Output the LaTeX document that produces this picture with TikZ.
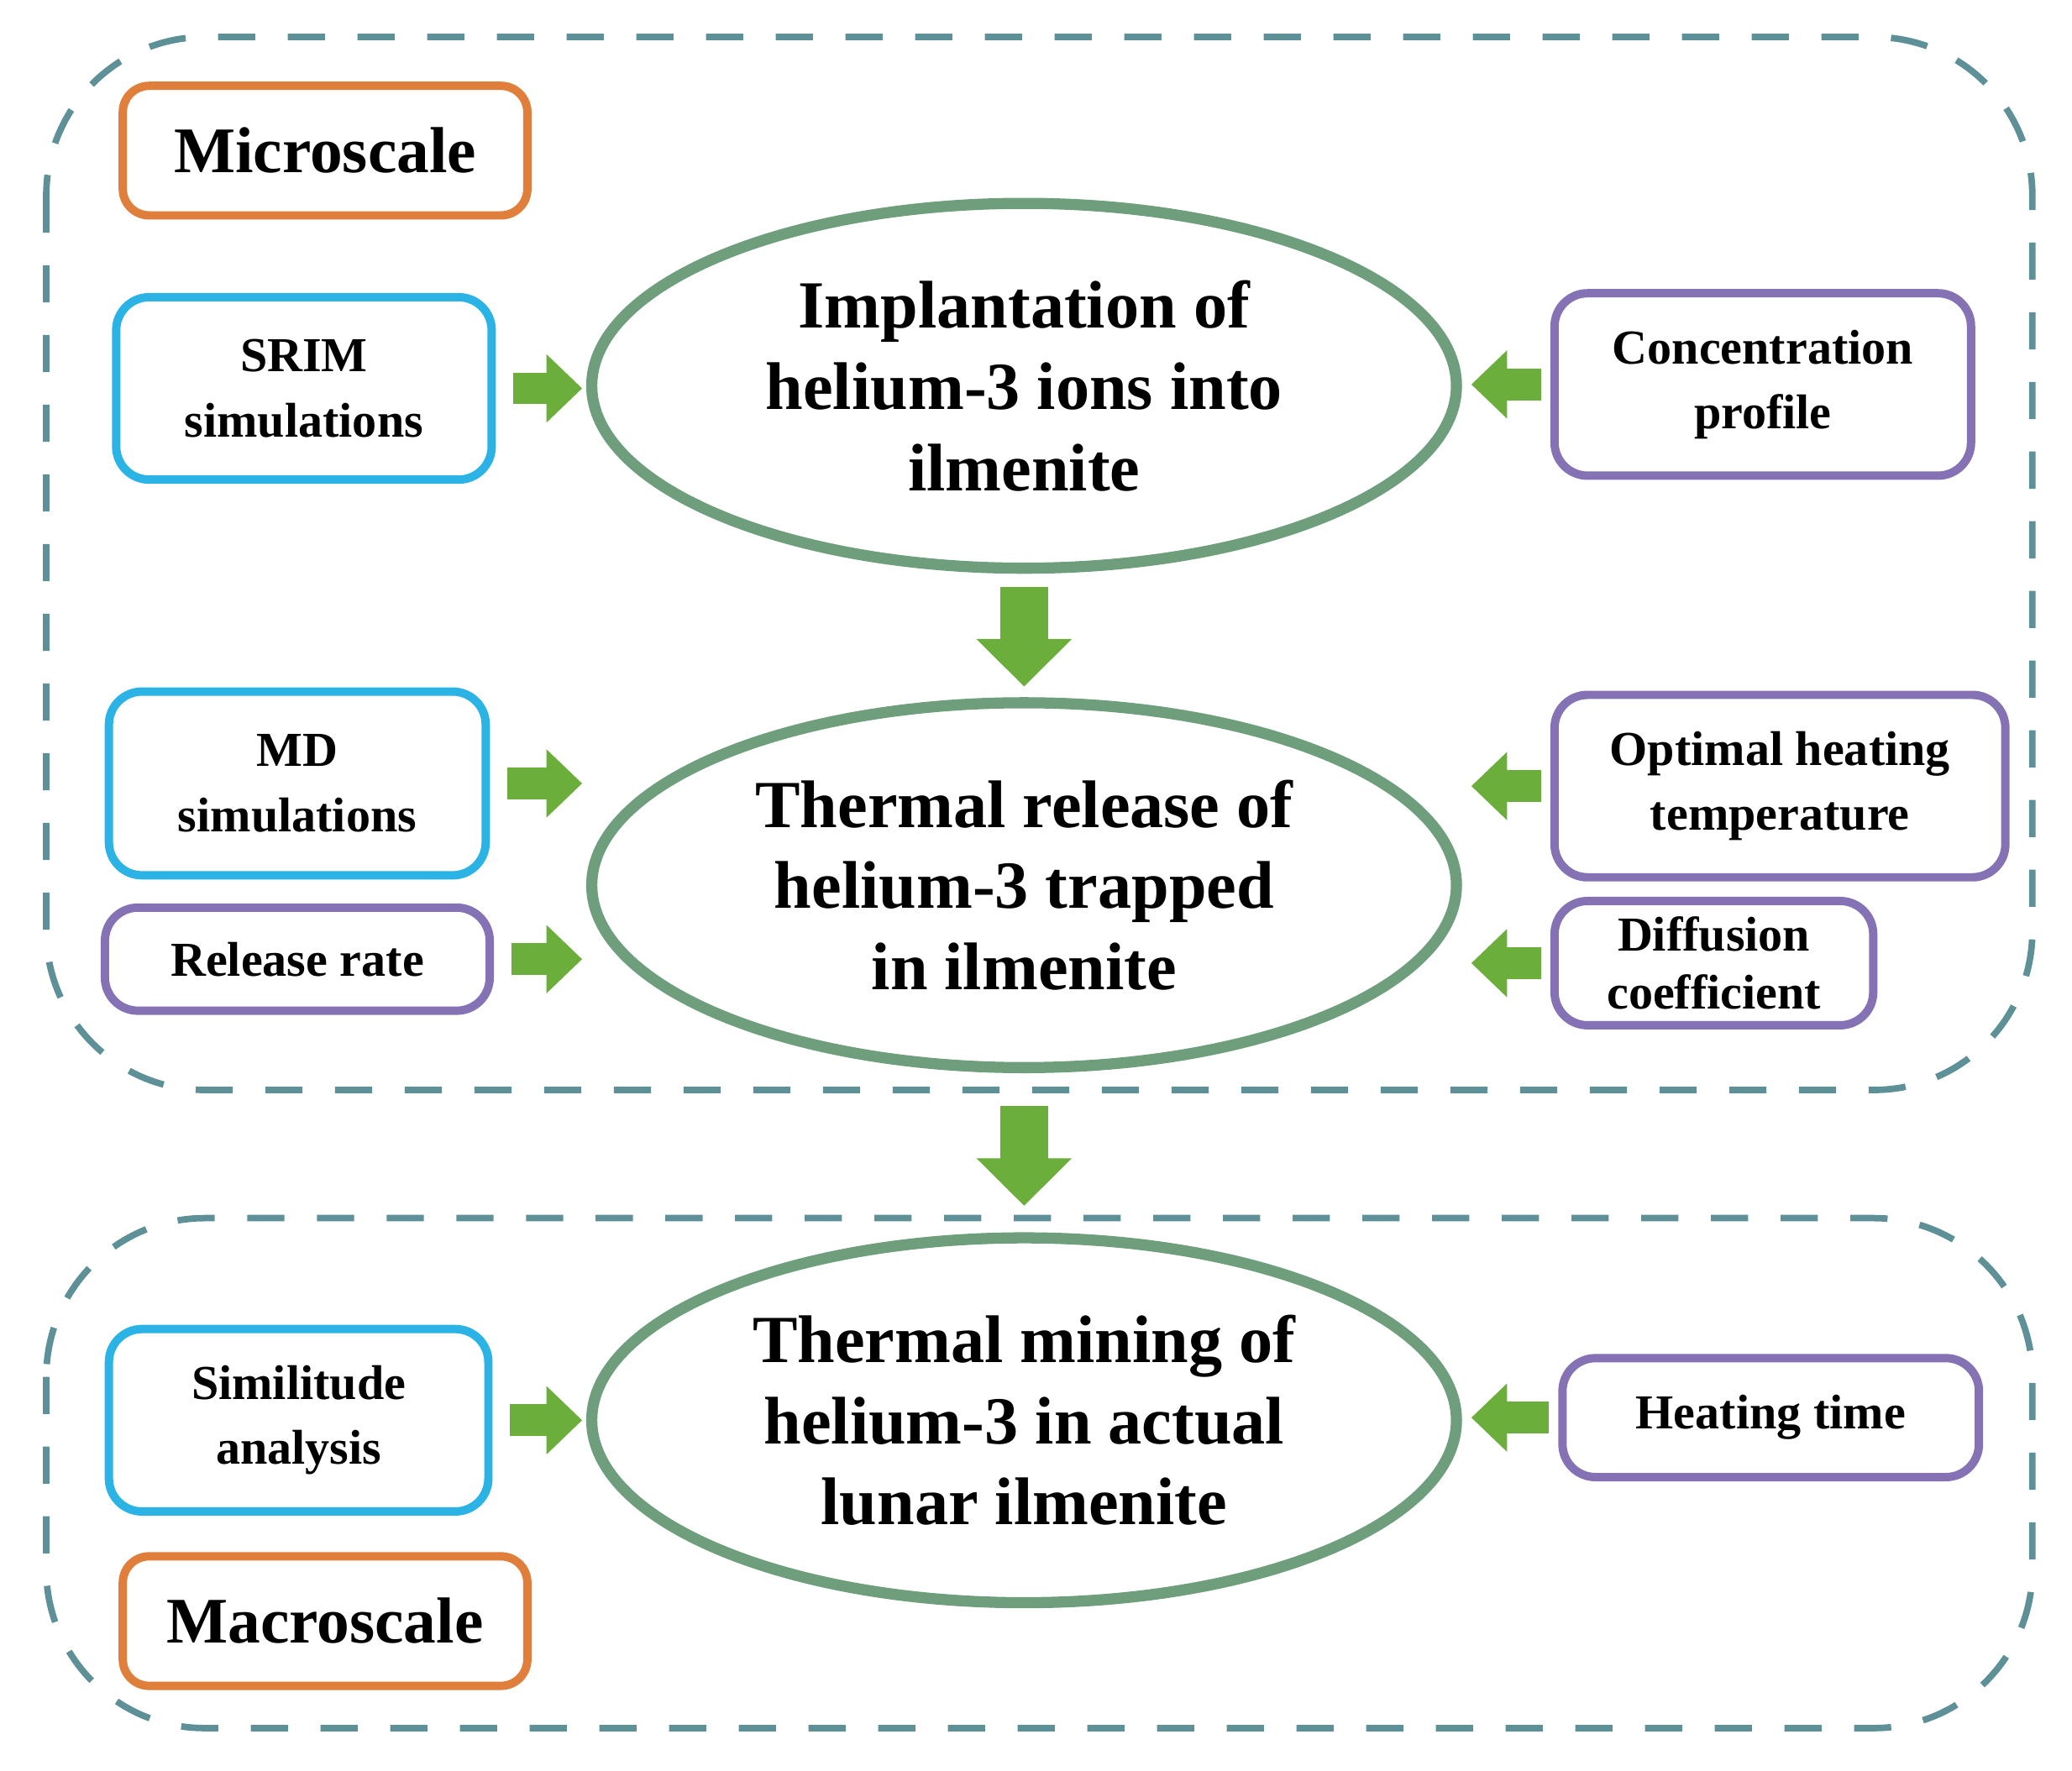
\documentclass[tikz,border=0pt]{standalone}
\usepackage{fontspec}
\setmainfont{Liberation Serif}
\usetikzlibrary{arrows.meta,shapes.geometric}
\definecolor{frameteal}{HTML}{5E9098}
\definecolor{ellgreen}{HTML}{6E9E7C}
\definecolor{arrgreen}{HTML}{6BAE3C}
\definecolor{boxcyan}{HTML}{2BB3E6}
\definecolor{boxpurple}{HTML}{8472B4}
\definecolor{boxorange}{HTML}{E07E3C}
\begin{document}
\begin{tikzpicture}[
    x=0.01cm, y=-0.01cm,
    frame/.style={draw=frameteal, line width=1.4pt, dash pattern=on 8pt off 7pt, rounded corners=1.2cm},
    stage/.style={ellipse, draw=ellgreen, line width=2.4pt, minimum width=6.54cm, minimum height=2.76cm, align=center, font=\bfseries\fontsize{14.5}{17.5}\selectfont},
    tool/.style={draw=boxcyan, line width=1.8pt, rounded corners=0.25cm, align=center, font=\bfseries\fontsize{10.5}{14}\selectfont},
    output/.style={tool, draw=boxpurple},
    scale label/.style={draw=boxorange, line width=1.8pt, rounded corners=0.2cm, minimum width=3.06cm, minimum height=0.98cm, font=\bfseries\fontsize{14}{16}\selectfont},
    flow/.style={draw=arrgreen, line width=0.24cm, -{Triangle[width=0.5cm,length=0.27cm]}},
    bigflow/.style={draw=arrgreen, line width=0.36cm, -{Triangle[width=0.7cm,length=0.36cm]}},
]
\useasboundingbox (0,0) rectangle (1568,1340);
% dashed frames
\draw[frame] (35,28) rectangle (1538,825);
\draw[frame] (35,922) rectangle (1538,1308);

% scale labels
\node[scale label] (micro) at (246,114) {Microscale};
\node[scale label] (macro) at (246,1227) {Macroscale};

% stages
\node[stage] (implant) at (775,292) {Implantation of\\helium-3 ions into\\ilmenite};
\node[stage] (release) at (775,670) {Thermal release of\\helium-3 trapped\\in ilmenite};
\node[stage] (mining) at (775,1075) {Thermal mining of\\helium-3 in actual\\lunar ilmenite};

% side boxes
\node[tool, minimum width=2.84cm, minimum height=1.38cm] (srim) at (230,294) {SRIM\\simulations};
\node[output, minimum width=3.15cm, minimum height=1.38cm] (conc) at (1334,291) {Concentration\\profile};
\node[tool, minimum width=2.85cm, minimum height=1.39cm] (md) at (225,593) {MD\\simulations};
\node[output, minimum width=2.91cm, minimum height=0.78cm] (rate) at (225,726) {Release rate};
\node[output, minimum width=3.41cm, minimum height=1.38cm] (heat) at (1347,595) {Optimal heating\\temperature};
\node[output, minimum width=2.41cm, minimum height=0.94cm, inner sep=1pt, font=\bfseries\fontsize{10.5}{12.5}\selectfont] (diff) at (1297,729) {Diffusion\\coefficient};
\node[tool, minimum width=2.87cm, minimum height=1.38cm] (simil) at (226,1075) {Similitude\\analysis};
\node[output, minimum width=3.15cm, minimum height=0.9cm] (htime) at (1340,1073) {Heating time};

% arrows
\draw[flow, shorten <=0.13cm, shorten >=0.03cm] (srim.east) -- (srim.east -| implant.west);
\draw[flow, shorten <=0.13cm, shorten >=0.03cm] (md.east) -- (md.east -| release.west);
\draw[flow, shorten <=0.13cm, shorten >=0.03cm] (rate.east) -- (rate.east -| release.west);
\draw[flow, shorten <=0.13cm, shorten >=0.03cm] (simil.east) -- (simil.east -| mining.west);
\draw[flow, shorten <=0.07cm, shorten >=0.07cm] (conc.west) -- (conc.west -| implant.east);
\draw[flow, shorten <=0.07cm, shorten >=0.07cm] (heat.west) -- (heat.west -| release.east);
\draw[flow, shorten <=0.07cm, shorten >=0.07cm] (diff.west) -- (diff.west -| release.east);
\draw[flow, shorten <=0.07cm, shorten >=0.07cm] (htime.west) -- (htime.west -| mining.east);
\draw[bigflow, shorten <=0.1cm, shorten >=0.08cm] (implant.south) -- (release.north);
\draw[bigflow, shorten <=0.25cm, shorten >=0.2cm] (release.south) -- (mining.north);
\end{tikzpicture}
\end{document}
